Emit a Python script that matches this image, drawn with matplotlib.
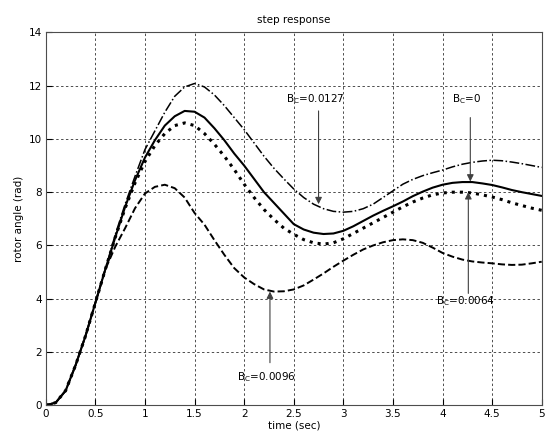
import matplotlib
matplotlib.use('Agg')
import matplotlib.pyplot as plt
import numpy as np

# time axis (sec), read every 0.1 s
t = np.round(np.arange(0, 5.01, 0.1), 1)

rise = [0.0, 0.1, 0.55, 1.5, 2.6, 3.85, 5.1]   # shared start, t = 0 .. 0.6

# B_C = 0.0127 (dash-dot)
y_0127 = rise + [6.4, 7.55, 8.6, 9.6, 10.3, 11.0, 11.6, 11.95, 12.08,
                 11.95, 11.65, 11.25, 10.8, 10.35, 9.85, 9.35, 8.9, 8.5, 8.12,
                 7.8, 7.55, 7.38, 7.28, 7.25, 7.28, 7.38, 7.55, 7.8, 8.05,
                 8.3, 8.48, 8.62, 8.73, 8.83, 8.95, 9.05, 9.12, 9.17, 9.2,
                 9.18, 9.13, 9.07, 9.0, 8.93]
# B_C = 0 (solid)
y_0 = rise + [6.3, 7.45, 8.45, 9.3, 9.95, 10.5, 10.85, 11.05, 11.02,
              10.8, 10.4, 9.95, 9.45, 9.0, 8.5, 8.0, 7.6, 7.2, 6.8,
              6.6, 6.48, 6.43, 6.45, 6.55, 6.72, 6.92, 7.12, 7.3, 7.47,
              7.65, 7.85, 8.02, 8.17, 8.28, 8.35, 8.38, 8.38, 8.33, 8.27,
              8.18, 8.08, 8.0, 7.93, 7.86]
# B_C = 0.0064 (dotted)
y_0064 = rise + [6.3, 7.4, 8.35, 9.15, 9.75, 10.2, 10.5, 10.6, 10.5,
                 10.2, 9.8, 9.35, 8.85, 8.3, 7.8, 7.35, 6.98, 6.65, 6.42,
                 6.22, 6.1, 6.05, 6.1, 6.25, 6.45, 6.65, 6.85, 7.05, 7.25,
                 7.45, 7.63, 7.78, 7.9, 7.97, 8.0, 8.0, 7.97, 7.9, 7.82,
                 7.72, 7.6, 7.5, 7.4, 7.32]
# B_C = 0.0096 (dashed)
y_0096 = rise + [5.95, 6.65, 7.4, 7.95, 8.2, 8.28, 8.15, 7.8, 7.22,
                 6.78, 6.2, 5.65, 5.15, 4.8, 4.55, 4.35, 4.27, 4.28, 4.35,
                 4.5, 4.72, 4.95, 5.2, 5.43, 5.65, 5.85, 6.0, 6.12, 6.2,
                 6.23, 6.2, 6.1, 5.92, 5.72, 5.58, 5.47, 5.4, 5.36, 5.33,
                 5.29, 5.27, 5.28, 5.33, 5.39]

fs = 7.5
fig = plt.figure(figsize=(5.45, 4.37), dpi=100)
ax = fig.add_axes([0.084, 0.0725, 0.91, 0.8535])

ax.plot(t, y_0127, color='k', ls='-.', lw=1.1)
ax.plot(t, y_0, color='k', ls='-', lw=1.5)
ax.plot(t, y_0064, color='k', ls=':', lw=2.2)
ax.plot(t, y_0096, color='k', ls='--', lw=1.4)

ax.set_xlim(0, 5)
ax.set_ylim(0, 14)
ax.set_xticks(np.arange(0, 5.01, 0.5))
ax.set_xticklabels(['0', '0.5', '1', '1.5', '2', '2.5', '3', '3.5', '4', '4.5', '5'])
ax.set_yticks(np.arange(0, 14.1, 2))
ax.grid(True, color='0.3', ls=(0, (2.5, 2.5)), lw=0.7)
ax.tick_params(direction='in', length=4, width=0.8, labelsize=fs, pad=3)
for s in ax.spines.values():
    s.set_linewidth(0.8)
    s.set_color('0.3')

ax.set_title('step response', fontsize=fs, pad=7)
ax.set_xlabel('time (sec)', fontsize=fs, labelpad=1)
ax.set_ylabel('rotor angle (rad)', fontsize=fs, labelpad=3)

arrow = dict(arrowstyle='-|>', color='0.25', lw=0.8, mutation_scale=10,
             shrinkA=0, shrinkB=0)

ax.text(2.42, 11.5, r'B$_{\rm C}$=0.0127', fontsize=fs, va='center')
ax.annotate('', xy=(2.75, 7.55), xytext=(2.75, 11.05), arrowprops=arrow)

ax.text(4.1, 11.5, r'B$_{\rm C}$=0', fontsize=fs, va='center')
ax.annotate('', xy=(4.28, 8.4), xytext=(4.28, 10.8), arrowprops=arrow)

ax.text(3.93, 3.9, r'B$_{\rm C}$=0.0064', fontsize=fs, va='center')
ax.annotate('', xy=(4.26, 8.0), xytext=(4.26, 4.2), arrowprops=arrow)

ax.text(1.93, 1.05, r'B$_{\rm C}$=0.0096', fontsize=fs, va='center')
ax.annotate('', xy=(2.26, 4.27), xytext=(2.26, 1.6), arrowprops=arrow)

fig.savefig('out.png', dpi=100)
